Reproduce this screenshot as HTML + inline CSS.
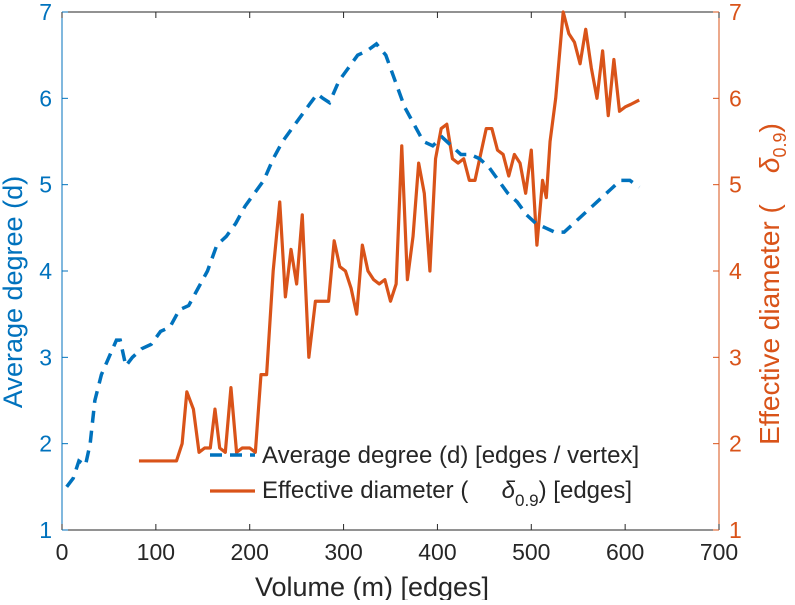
<!DOCTYPE html>
<html><head><meta charset="utf-8"><style>
body{margin:0;background:#fff}
svg text{font-family:"Liberation Sans",sans-serif}
</style></head><body>
<svg id="c" width="795" height="600" xmlns="http://www.w3.org/2000/svg"></svg>
<script>
const xTicks=[0,100,200,300,400,500,600,700];
const yTicks=[1,2,3,4,5,6,7];
const degX=[5,12,18,25,30,35,42,50,58,62,68,75,85,95,105,115,125,135,145,155,165,175,185,195,205,215,225,235,245,255,265,272,278,285,295,305,315,325,335,345,355,365,375,385,395,405,415,425,435,445,455,465,475,485,495,505,515,525,535,545,555,565,575,585,595,605,615];
const degY=[1.5,1.6,1.8,1.75,2.0,2.5,2.8,3.0,3.2,3.2,2.9,3.0,3.1,3.15,3.3,3.35,3.55,3.6,3.8,4.0,4.3,4.4,4.55,4.75,4.9,5.05,5.3,5.5,5.65,5.8,5.95,6.05,6.0,5.95,6.2,6.35,6.5,6.55,6.63,6.5,6.2,5.9,5.7,5.5,5.45,5.55,5.45,5.35,5.35,5.3,5.2,5.05,4.9,4.8,4.65,4.55,4.5,4.45,4.45,4.55,4.65,4.75,4.85,4.95,5.05,5.05,4.97];
const diaX=[82,122,128,133,140,146,152,158,163,168,174,180,186,192,200,206,212,218,225,232,238,244,250,256,263,270,278,284,290,296,302,308,314,320,326,332,338,344,350,356,362,368,374,380,386,392,398,404,410,416,422,428,434,440,446,452,458,464,470,476,482,488,494,500,506,512,516,520,526,534,540,546,552,558,564,570,576,582,588,594,600,606,615];
const diaY=[1.8,1.8,2.0,2.6,2.4,1.9,1.95,1.95,2.4,1.95,1.9,2.65,1.9,1.95,1.95,1.9,2.8,2.8,4.0,4.8,3.7,4.25,3.85,4.65,3.0,3.65,3.65,3.65,4.35,4.05,4.0,3.8,3.5,4.3,4.0,3.9,3.85,3.9,3.65,3.85,5.45,3.9,4.4,5.25,4.9,4.0,5.3,5.65,5.7,5.3,5.25,5.3,5.05,5.05,5.35,5.65,5.65,5.4,5.35,5.1,5.35,5.25,4.9,5.4,4.3,5.05,4.85,5.5,6.0,7.0,6.75,6.65,6.4,6.8,6.35,6.0,6.55,5.8,6.45,5.85,5.9,5.93,5.98];
const L=62,R=719,T=12,B=530;
const sx=v=>L+(v-0)/700*(R-L);
const sy=v=>B-(v-1)/6*(B-T);
const NS="http://www.w3.org/2000/svg";
const svg=document.getElementById('c');
function mk(t,a,txt){const e=document.createElementNS(NS,t);for(const k in a)e.setAttribute(k,a[k]);if(txt!==undefined)e.textContent=txt;svg.appendChild(e);return e;}
const BLUE="#0072bd",ORG="#d95319";
let e=mk('line',{x1:L,y1:T,x2:R,y2:T,stroke:'#262626','stroke-width':1});


e=mk('line',{x1:L,y1:B,x2:R,y2:B,stroke:'#262626','stroke-width':1});


e=mk('line',{x1:L,y1:T,x2:L,y2:B,stroke:BLUE,'stroke-width':1});


e=mk('line',{x1:R,y1:T,x2:R,y2:B,stroke:ORG,'stroke-width':1});


xTicks.forEach(v=>{
  mk('line',{x1:sx(v),y1:B,x2:sx(v),y2:B-6,stroke:'#262626'});
  mk('line',{x1:sx(v),y1:T,x2:sx(v),y2:T+6,stroke:'#262626'});
  const t=mk('text',{x:sx(v),y:B+30,'text-anchor':'middle','font-size':23,fill:'#262626'},v);
  
  
});
yTicks.forEach(v=>{
  mk('line',{x1:L,y1:sy(v),x2:L+6,y2:sy(v),stroke:BLUE});
  mk('line',{x1:R,y1:sy(v),x2:R-6,y2:sy(v),stroke:ORG});
  let t=mk('text',{x:L-10,y:sy(v)+8,'text-anchor':'end','font-size':23,fill:BLUE},v);
  
  
  t=mk('text',{x:R+10,y:sy(v)+8,'text-anchor':'start','font-size':23,fill:ORG},v);
  
  
});
e=mk('text',{x:0,y:0,transform:'translate(22,292) rotate(-90)','text-anchor':'middle','font-size':27,fill:BLUE},'Average degree (d)');


e=mk('text',{x:0,y:0,transform:'translate(779,284) rotate(-90)','text-anchor':'middle','font-size':28,fill:ORG});
e.innerHTML='Effective diameter (&#160;&#160;&#160;&#160;<tspan font-style="italic">δ</tspan><tspan font-size="18" dy="7">0.9</tspan><tspan dy="-7">)</tspan>';


e=mk('text',{x:372,y:596,'text-anchor':'middle','font-size':27,fill:'#262626'},'Volume (m) [edges]');


e=mk('polyline',{points:diaX.map((x,i)=>sx(x)+','+sy(diaY[i])).join(' '),fill:'none',stroke:ORG,'stroke-width':3.2,'stroke-linejoin':'round'});


e=mk('polyline',{points:degX.map((x,i)=>sx(x)+','+sy(degY[i])).join(' '),fill:'none',stroke:BLUE,'stroke-width':3.5,'stroke-dasharray':'12 8'});


e=mk('line',{x1:210,y1:455,x2:255,y2:455,stroke:BLUE,'stroke-width':3.5,'stroke-dasharray':'12 8'});


e=mk('text',{x:262,y:463,'font-size':24,fill:'#262626'},'Average degree (d) [edges / vertex]');


e=mk('line',{x1:210,y1:491,x2:255,y2:491,stroke:ORG,'stroke-width':3.2});


e=mk('text',{x:262,y:498,'font-size':24,fill:'#262626'});
e.innerHTML='Effective diameter (&#160;&#160;&#160;&#160;&#160;<tspan font-style="italic">δ</tspan><tspan font-size="17" dy="8">0.9</tspan><tspan dy="-8">) [edges]</tspan>';


</script>
</body></html>
